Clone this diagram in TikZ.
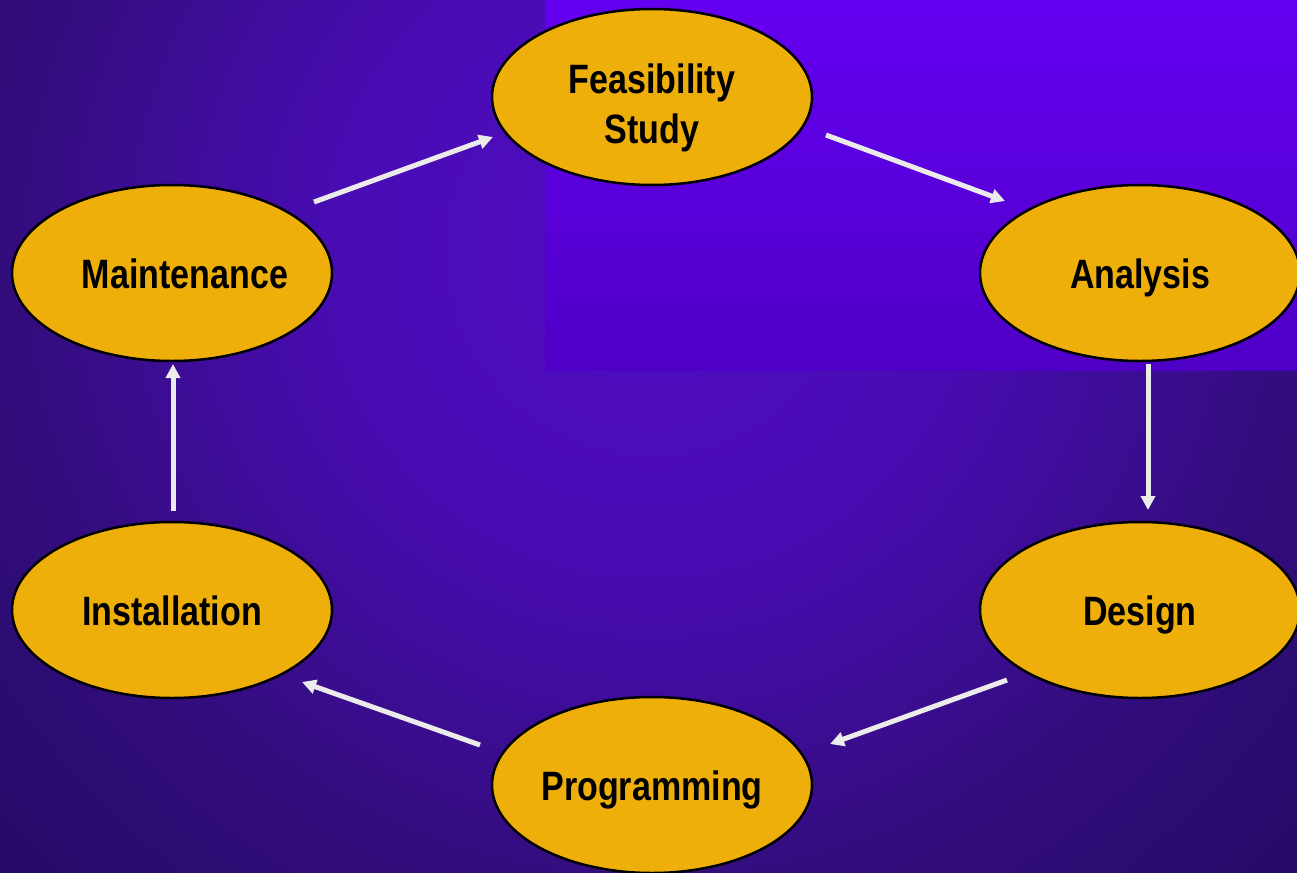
\documentclass[tikz,border=0pt]{standalone}
\usepackage{fontspec}
\setmainfont{Liberation Sans}[FakeStretch=0.83]
\usetikzlibrary{arrows.meta,calc,shapes.geometric}
\definecolor{bgA}{HTML}{500CC4}
\definecolor{bgB}{HTML}{480CB2}
\definecolor{bgC}{HTML}{320D7C}
\definecolor{bgD}{HTML}{260A68}
\definecolor{rectTop}{HTML}{6400F2}
\definecolor{rectBot}{HTML}{4F00C6}
\definecolor{stagefill}{HTML}{EEAF0B}
\definecolor{arrowcol}{HTML}{EBEBEB}
\pgfdeclareradialshading{bgshade}{\pgfpoint{0bp}{0bp}}{color(0bp)=(bgA); color(8.9bp)=(bgB); color(17.9bp)=(bgC); color(25bp)=(bgD); color(50bp)=(bgD)}
\tikzset{
  stage/.style={ellipse, draw=black, line width=2.5pt, fill=stagefill,
    minimum width=320pt, minimum height=176pt, inner sep=0pt, align=center,
    text height=30pt, text depth=0pt,
    font=\fontsize{41}{50}\selectfont\bfseries, text=black},
  flow/.style={draw=arrowcol, line width=5pt,
    -{Triangle[length=14pt,width=14pt]}}
}
\begin{document}
\begin{tikzpicture}[x=1pt,y=-1pt]
\useasboundingbox (0,0) rectangle (1297,872);
\begin{scope}
  \clip (0,0) rectangle (1297,872);
  \shade[shading=bgshade] (650,250) circle (900);
\end{scope}
\shade[top color=rectTop, bottom color=rectBot] (545,0) rectangle (1297,370);

\node[stage, text height=92pt] (f) at (652,97) {\parbox[b]{220pt}{\centering Feasibility\\Study}};
\node[stage] (a) at (1140,273) {Analysis};
\node[stage] (d) at (1140,610) {Design};
\node[stage] (p) at (652,785) {Programming};
\node[stage] (i) at (172,610) {Installation};
\node[stage] (m) at (172,273) {\makebox[0pt]{\hspace*{26pt}Maintenance}};

\draw[flow] ($(m)+(142,-71)$) -- ($(f)+(-159,40)$);
\draw[flow] ($(f)+(174,38)$) -- ($(a)+(-135,-72)$);
\draw[flow] ($(a)+(8,91)$) -- ($(d)+(8,-100)$);
\draw[flow] ($(d)+(-133,70)$) -- ($(p)+(178,-41)$);
\draw[flow] ($(p)+(-172,-40)$) -- ($(i)+(130,72)$);
\draw[flow] ($(i)+(1,-99)$) -- ($(m)+(1,91)$);
\end{tikzpicture}
\end{document}
